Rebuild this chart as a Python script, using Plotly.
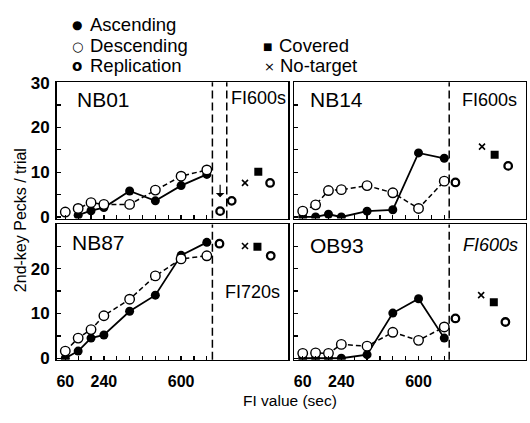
import plotly.graph_objects as go

# ---------------- data ----------------
FI = [60, 120, 180, 240, 360, 480, 600, 720]
x_tick_vals = [60, 120, 180, 240, 300, 360, 420, 480, 540, 600, 660, 720]
x_tick_text = ["60", "", "", "240", "", "", "", "", "", "600", "", ""]
y_tick_vals = [0, 5, 10, 15, 20, 25, 30]
y_tick_text_top = ["0", "", "10", "", "20", "", "30"]
y_tick_text_bottom = ["0", "", "10", "", "20", "", ""]

subjects = ["NB01", "NB14", "NB87", "OB93"]
probe_labels = ["FI600s", "FI600s", "FI720s", "<i>FI600s</i>"]

asc_NB01 = [None, 0.4, 1.4, 2.1, 5.8, 3.6, 7.0, 9.5]
desc_NB01 = [1.1, 1.9, 3.2, 2.8, 2.8, 6.0, 9.1, 10.5]
asc_NB14 = [0.0, 0.0, 0.6, 0.0, 1.3, 1.6, 14.3, 13.1]
desc_NB14 = [1.3, 2.7, 5.9, 6.1, 7.0, 5.4, 1.9, 8.0]
asc_NB87 = [0.0, 1.6, 4.5, 5.2, 10.5, 14.1, 23.0, 25.9]
desc_NB87 = [1.6, 4.5, 6.4, 9.5, 13.2, 18.4, 22.2, 22.9]
asc_OB93 = [0.0, 0.0, 0.0, 0.0, 0.8, 10.1, 13.3, 4.5]
desc_OB93 = [1.1, 1.2, 1.1, 3.1, 2.7, 5.8, 4.0, 7.0]

rep_x_NB01, rep_y_NB01 = [782, 836, 1015], [1.3, 3.6, 7.6]
rep_x_NB14, rep_y_NB14 = [772, 1018], [7.7, 11.4]
rep_x_NB87, rep_y_NB87 = [779, 1018], [25.6, 22.9]
rep_x_OB93, rep_y_OB93 = [772, 1005], [8.9, 8.1]

cov_x_NB01, cov_y_NB01 = [960], [10.1]
cov_x_NB14, cov_y_NB14 = [955], [13.9]
cov_x_NB87, cov_y_NB87 = [956], [24.9]
cov_x_OB93, cov_y_OB93 = [951], [12.5]

nt_x_NB01, nt_y_NB01 = [898], [7.6]
nt_x_NB14, nt_y_NB14 = [896], [15.7]
nt_x_NB87, nt_y_NB87 = [898], [25.1]
nt_x_OB93, nt_y_OB93 = [892], [14.1]

boundary_NB01 = [746, 813]
boundary_NB14 = [743]
boundary_NB87 = [746]
boundary_OB93 = [743]

# NB01 arrow (from, to) in data values
arrow_NB01_x = 782
arrow_NB01_y = [7.5, 4.4]

panels = [
    dict(asc=asc_NB01, desc=desc_NB01, rx=rep_x_NB01, ry=rep_y_NB01, cx=cov_x_NB01, cy=cov_y_NB01,
         nx=nt_x_NB01, ny=nt_y_NB01, b=boundary_NB01),
    dict(asc=asc_NB14, desc=desc_NB14, rx=rep_x_NB14, ry=rep_y_NB14, cx=cov_x_NB14, cy=cov_y_NB14,
         nx=nt_x_NB14, ny=nt_y_NB14, b=boundary_NB14),
    dict(asc=asc_NB87, desc=desc_NB87, rx=rep_x_NB87, ry=rep_y_NB87, cx=cov_x_NB87, cy=cov_y_NB87,
         nx=nt_x_NB87, ny=nt_y_NB87, b=boundary_NB87),
    dict(asc=asc_OB93, desc=desc_OB93, rx=rep_x_OB93, ry=rep_y_OB93, cx=cov_x_OB93, cy=cov_y_OB93,
         nx=nt_x_OB93, ny=nt_y_OB93, b=boundary_OB93),
]

# ---------------- layout geometry ----------------
W, H = 530, 423
FONT = "Liberation Sans, Arial, Helvetica, sans-serif"
x_domains = [[0.107, 0.544], [0.555, 0.992], [0.107, 0.544], [0.555, 0.992]]
y_domains = [[0.4839, 0.8193], [0.4839, 0.8193], [0.1359, 0.4693], [0.1359, 0.4693]]
y_ranges = [[-0.35, 30.05], [-0.35, 30.05], [-0.35, 29.9], [-0.35, 29.9]]
label_pos = [(0.079, 0.874), (0.058, 0.874), (0.057, 0.867), (0.058, 0.846)]
probe_pos = [(0.745, 0.885), (0.716, 0.871), (0.719, 0.504), (0.720, 0.851)]

fig = go.Figure()
layout = dict(width=W, height=H, margin=dict(l=0, r=0, t=0, b=0),
              paper_bgcolor="white", plot_bgcolor="white", showlegend=False,
              font=dict(family=FONT, color="black"), hovermode=False)
annotations = []
shapes = []

for i, p in enumerate(panels):
    n = "" if i == 0 else str(i + 1)
    xa, ya = "x" + n, "y" + n
    fig.add_trace(go.Scatter(x=FI, y=p["asc"], xaxis=xa, yaxis=ya, mode="lines+markers",
                             line=dict(color="black", width=1.8),
                             marker=dict(symbol="circle", size=9, color="black")))
    fig.add_trace(go.Scatter(x=FI, y=p["desc"], xaxis=xa, yaxis=ya, mode="lines+markers",
                             line=dict(color="black", width=1.5, dash="5px,3px"),
                             marker=dict(symbol="circle", size=9.5, color="white",
                                         line=dict(color="black", width=1.4))))
    fig.add_trace(go.Scatter(x=p["rx"], y=p["ry"], xaxis=xa, yaxis=ya, mode="markers",
                             marker=dict(symbol="circle", size=7.5, color="white",
                                         line=dict(color="black", width=2.3))))
    fig.add_trace(go.Scatter(x=p["cx"], y=p["cy"], xaxis=xa, yaxis=ya, mode="markers",
                             marker=dict(symbol="square", size=8, color="black")))
    fig.add_trace(go.Scatter(x=p["nx"], y=p["ny"], xaxis=xa, yaxis=ya, mode="markers",
                             marker=dict(symbol="x-thin", size=6,
                                         line=dict(color="black", width=1.6))))
    bottom = i >= 2
    left = i % 2 == 0
    layout["xaxis" + n] = dict(domain=x_domains[i], anchor=ya, range=[20, 1100],
                               showline=True, linecolor="black", linewidth=1.6, mirror=True,
                               ticks="inside", ticklen=4, tickwidth=1.3, tickcolor="black",
                               tickvals=x_tick_vals, ticktext=x_tick_text,
                               showticklabels=bottom, showgrid=False, zeroline=False,
                               ticklabelstandoff=6,
                               tickfont=dict(family=FONT, size=16, weight="bold"))
    layout["yaxis" + n] = dict(domain=y_domains[i], anchor=xa, range=y_ranges[i],
                               showline=True, linecolor="black", linewidth=1.6, mirror=True,
                               ticks="inside", ticklen=4, tickwidth=1.3, tickcolor="black",
                               tickvals=y_tick_vals,
                               ticktext=y_tick_text_bottom if bottom else y_tick_text_top,
                               showticklabels=left, showgrid=False, zeroline=False,
                               ticklabelstandoff=2,
                               tickfont=dict(family=FONT, size=17, weight="bold"))
    for bx in p["b"]:
        shapes.append(dict(type="line", xref=xa, yref=ya + " domain", x0=bx, x1=bx, y0=0, y1=1,
                           line=dict(color="black", width=1.5, dash="8px,4px")))
    annotations.append(dict(text=subjects[i], xref=xa + " domain", yref=ya + " domain",
                            x=label_pos[i][0], y=label_pos[i][1], xanchor="left", yanchor="middle",
                            showarrow=False, font=dict(family=FONT, size=21)))
    annotations.append(dict(text=probe_labels[i], xref=xa + " domain", yref=ya + " domain",
                            x=probe_pos[i][0], y=probe_pos[i][1], xanchor="left", yanchor="middle",
                            showarrow=False, font=dict(family=FONT, size=18)))

# arrow in NB01
annotations.append(dict(x=arrow_NB01_x, y=arrow_NB01_y[1], ax=arrow_NB01_x, ay=arrow_NB01_y[0],
                        xref="x", yref="y", axref="x", ayref="y", text="", showarrow=True,
                        arrowhead=1, arrowsize=1.2, arrowwidth=1.2, arrowcolor="black"))

# axis titles
annotations.append(dict(text="FI value (sec)", xref="paper", yref="paper", x=289.5 / W, y=1 - 408 / H,
                        xanchor="center", yanchor="middle", showarrow=False,
                        font=dict(family=FONT, size=15.5)))
annotations.append(dict(text="2nd-key Pecks / trial", xref="paper", yref="paper", x=20 / W, y=1 - 220 / H,
                        xanchor="center", yanchor="middle", showarrow=False, textangle=-90,
                        font=dict(family=FONT, size=16)))

# legend (text keys)
legend_items = [
    ("●", "Ascending", 77, 88, 16.0, 12),
    ("○", "Descending", 77, 88, 38.0, 13),
    ("<b>o</b>", "Replication", 77, 88, 58.5, 15),
    ("■", "Covered", 267, 277, 38.0, 10),
    ("×", "No-target", 269, 278, 58.5, 13),
]
for sym, label, sx, tx, ty, ssize in legend_items:
    annotations.append(dict(text=sym, xref="paper", yref="paper", x=sx / W, y=1 - (ty + 1) / H,
                            xanchor="center", yanchor="middle", showarrow=False,
                            font=dict(family="DejaVu Sans", size=ssize)))
    annotations.append(dict(text=label, xref="paper", yref="paper", x=tx / W, y=1 - ty / H,
                            xanchor="left", yanchor="middle", showarrow=False,
                            font=dict(family=FONT, size=18.5)))

layout["annotations"] = annotations
layout["shapes"] = shapes
fig.update_layout(**layout)
fig.write_html("out.html", config={"displayModeBar": False, "staticPlot": True},
               post_script="document.body.style.margin='0';document.body.style.overflow='hidden';")
